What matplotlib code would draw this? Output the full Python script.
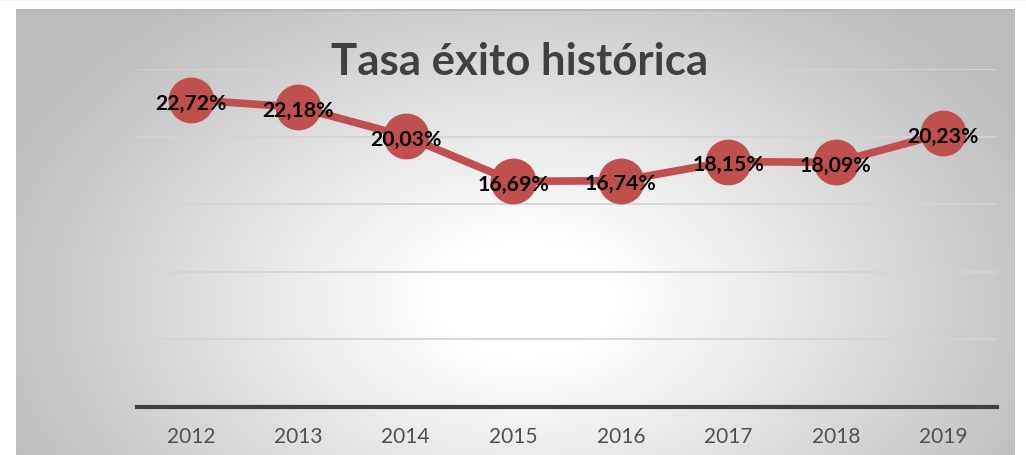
import matplotlib

matplotlib.use("Agg")

import matplotlib.pyplot as plt
import numpy as np

years = ["2012", "2013", "2014", "2015", "2016", "2017", "2018", "2019"]
rates = [22.72, 22.18, 20.03, 16.69, 16.74, 18.15, 18.09, 20.23]
labels = ["22,72%", "22,18%", "20,03%", "16,69%", "16,74%", "18,15%", "18,09%", "20,23%"]
title = "Tasa éxito histórica"

W, H = 1026, 456
fig = plt.figure(figsize=(W / 100, H / 100), dpi=100)
fig.patch.set_facecolor("white")

# radial gradient background of the chart box
bg = fig.add_axes([16 / W, 0, (1015 - 16) / W, (H - 10) / H])
bg.set_axis_off()
yy, xx = np.mgrid[0:446, 0:999]
cx, cy = 510, 290
d = np.sqrt(((xx - cx) / 600.0) ** 2 + ((yy - cy) / 400.0) ** 2)
shade = np.clip(1.0 - 0.28 * np.clip(d - 0.15, 0, None) / 0.85, 0.74, 1.0)
bg.imshow(np.dstack([shade] * 3), aspect="auto", extent=(0, 1, 0, 1), origin="upper")
bg.set_xlim(0, 1)
bg.set_ylim(0, 1)
bg.plot([0, 1], [0.998, 0.998], color="#b8b8b8", lw=1.5, transform=bg.transAxes)
fig.add_artist(plt.Line2D([0, 1], [0.999, 0.999], color="#d0d0d0", lw=1.0))

ax = fig.add_axes([137 / W, 1 - 408 / H, (997 - 137) / W, (408 - 70) / H])
ax.patch.set_alpha(0)
x = np.arange(len(years))
ax.set_xlim(-0.5, len(years) - 0.5)
ax.set_ylim(0, 25)
for v in [5, 10, 15, 20, 25]:
    ax.axhline(v, color="#d4d4d4", lw=1.3, zorder=1)
ax.plot(x, rates, color="#c0504d", lw=5.5, marker="o", markersize=32,
        markerfacecolor="#c0504d", markeredgecolor="#c0504d", zorder=3, clip_on=False)
for xi, v, lab in zip(x, rates, labels):
    ax.annotate(lab, xy=(xi, v), xytext=(0, -2), textcoords="offset points",
                ha="center", va="center", fontsize=15.3, fontweight="bold",
                family="Lato", color="black", zorder=4)

for s in ["top", "right", "left"]:
    ax.spines[s].set_visible(False)
ax.spines["bottom"].set_color("#404040")
ax.spines["bottom"].set_linewidth(3)
ax.set_yticks([])
ax.set_xticks(x)
ax.set_xticklabels(years, family="Lato", fontsize=15, color="#505050")
ax.tick_params(axis="x", length=0, pad=14)

fig.text(520 / W, 1 - 62 / H, title, ha="center", va="center", fontsize=31.5,
         fontweight="bold", family="Lato", color="#404040", zorder=5)

fig.savefig("out.png", dpi=100)
